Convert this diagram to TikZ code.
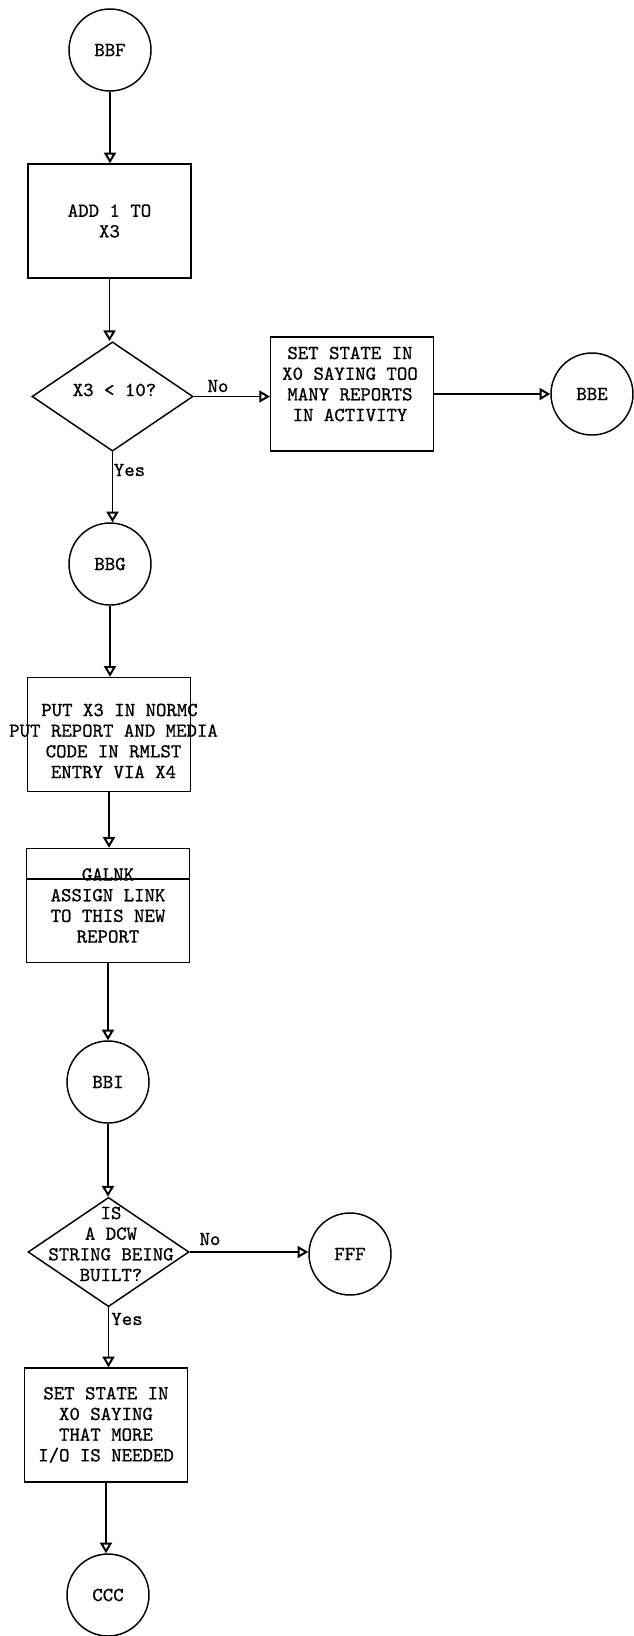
\documentclass[tikz,border=0pt]{standalone}
\usepackage{fontspec}
\newfontface\twfont{lmmono10-regular.otf}[FakeBold=0.8]
\usetikzlibrary{arrows.meta,shapes.geometric,calc}
\begin{document}
\begin{tikzpicture}[x=0.75pt,y=-0.75pt,
  every node/.style={font=\fontsize{14.9}{15.5}\selectfont\twfont},
  conn/.style={draw, line width=1.1pt, circle, minimum size=61.5pt, inner sep=0pt},
  proc/.style={draw, line width=1.1pt, rectangle, minimum width=122pt, minimum height=85.5pt, inner sep=0pt, align=center},
  dec/.style={draw, line width=1.1pt, diamond, minimum width=120.75pt, minimum height=82pt, inner sep=0pt},
  txt/.style={align=center, inner sep=0pt},
  lbl/.style={inner sep=0pt},
  flow/.style={line width=1.1pt, -{Triangle[open,length=8pt,width=9pt,line width=1.5pt]}}
]
\useasboundingbox (0,0) rectangle (633,1636);

% shapes
\node[conn] (bbf) at (110,50) {BBF};
\node[proc] (b1) at (109.5,221) {ADD 1 TO\\X3};
\node[dec] (d1) at (112.5,396.5) {};
\node[txt] (d1t) at (114.5,390) {X3 < 10?};
\node[proc] (b2) at (352,394) {};
\node[txt] (b2t) at (350,384) {SET STATE IN\\X0 SAYING TOO\\MANY REPORTS\\IN ACTIVITY};
\node[conn] (bbe) at (592,394) {BBE};
\node[conn] (bbg) at (110,564) {BBG};
\node[proc] (b3) at (109,734.5) {};
\node[txt] (b3t) at (113.5,741) {\hspace*{9pt}PUT X3 IN NORMC\\PUT REPORT AND MEDIA\\CODE IN RMLST\hspace*{6.75pt}\\ENTRY VIA X4};
\node[proc] (b4) at (108,905.5) {GALNK\\ASSIGN LINK\\TO THIS NEW\\REPORT};
\draw[line width=1.1pt] ([yshift=-23.25pt]b4.north west) -- ([yshift=-23.25pt]b4.north east);
\node[conn] (bbi) at (108,1082) {BBI};
\node[dec] (d2) at (108.5,1252) {};
\node[txt] (d2t) at (111,1244) {IS\\A DCW\\STRING BEING\\BUILT?};
\node[conn] (fff) at (350,1254) {FFF};
\node[proc] (b5) at (106,1425) {SET STATE IN\\X0 SAYING\\THAT MORE\\I/O IS NEEDED};
\node[conn] (ccc) at (108,1595) {CCC};

% labels
\node[lbl] (no1) at (218,386) {No};
\node[lbl] (yes1) at (129.5,470) {Yes};
\node[lbl] (no2) at (210,1239) {No};
\node[lbl] (yes2) at (127,1319) {Yes};

% connectors
\draw[flow] (bbf.south) -- (bbf.south |- b1.north);
\draw[flow] (b1.south) -- (b1.south |- d1.north);
\draw[flow] (d1.east) -- (d1.east -| b2.west);
\draw[flow] (b2.east) -- (bbe.west);
\draw[flow] (d1.south) -- (d1.south |- bbg.north);
\draw[flow] (bbg.south) -- (bbg.south |- b3.north);
\draw[flow] (b3.south) -- (b3.south |- b4.north);
\draw[flow] (b4.south) -- (b4.south |- bbi.north);
\draw[flow] (bbi.south) -- (bbi.south |- d2.north);
\draw[flow] (d2.east) -- (d2.east -| fff.west);
\draw[flow] (d2.south) -- (d2.south |- b5.north);
\draw[flow] (b5.south) -- (b5.south |- ccc.north);
\end{tikzpicture}
\end{document}
